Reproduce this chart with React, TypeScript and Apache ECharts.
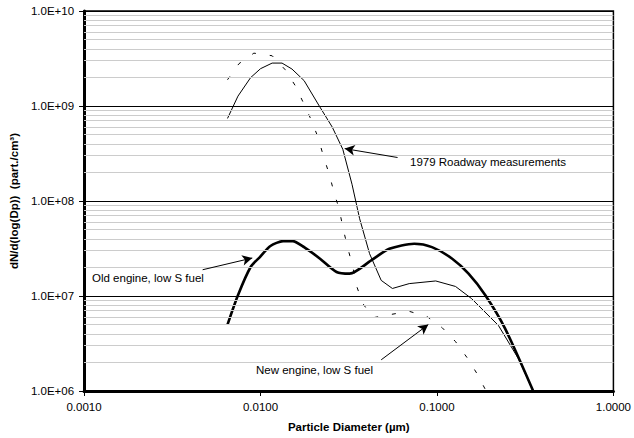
import React, { useEffect, useRef } from "react";
import * as echarts from "echarts";

// Particle diameter (µm) and concentration dN/dlog(Dp) (part./cm³)
const roadwayX = [0.0065, 0.00745, 0.00879, 0.0100, 0.01164, 0.01324, 0.01507, 0.01766, 0.02153, 0.0255, 0.02927, 0.0330, 0.03647, 0.0415, 0.0483, 0.0559, 0.0696, 0.0984, 0.1274, 0.157, 0.223, 0.289, 0.351];
const roadwayY = [7.4e8, 1.27e9, 1.99e9, 2.47e9, 2.83e9, 2.83e9, 2.45e9, 1.85e9, 1.0e9, 6.0e8, 3.5e8, 1.5e8, 6.5e7, 2.79e7, 1.46e7, 1.2e7, 1.35e7, 1.44e7, 1.26e7, 9.4e6, 4.9e6, 2.2e6, 1.0e6];

const oldEngineX = [0.0065, 0.00745, 0.00879, 0.00992, 0.01138, 0.01342, 0.0152, 0.01766, 0.02174, 0.02698, 0.032, 0.0424, 0.0537, 0.0743, 0.0937, 0.122, 0.151, 0.188, 0.243, 0.351];
const oldEngineY = [5.0e6, 1.02e7, 2.02e7, 2.57e7, 3.36e7, 3.78e7, 3.78e7, 3.27e7, 2.47e7, 1.79e7, 1.72e7, 2.37e7, 3.14e7, 3.55e7, 3.27e7, 2.47e7, 1.72e7, 1.02e7, 4.57e6, 1.0e6];

const newEngineX = [0.0065, 0.00755, 0.00917, 0.01164, 0.0138, 0.01573, 0.0175, 0.01934, 0.02126, 0.0227, 0.0245, 0.0261, 0.0279, 0.0294, 0.0313, 0.0334, 0.0349, 0.038, 0.0433, 0.055, 0.0696, 0.0882, 0.107, 0.1274, 0.148, 0.168, 0.19];
const newEngineY = [1.89e9, 2.79e9, 3.6e9, 3.38e9, 2.41e9, 1.64e9, 1.08e9, 7.2e8, 4.6e8, 2.98e8, 1.92e8, 1.23e8, 8.25e7, 5.1e7, 3.14e7, 2.02e7, 1.3e7, 8.35e6, 5.9e6, 6.4e6, 6.9e6, 6.05e6, 4.64e6, 3.31e6, 2.25e6, 1.54e6, 1.0e6];

// Minor horizontal grid values (2..9 within each decade)
const minorGridValues: number[] = [];
for (let e = 6; e < 10; e++) {
  for (let m = 2; m <= 9; m++) minorGridValues.push(m * Math.pow(10, e));
}

// Annotation arrows: [fromX, fromY, toX, toY]
const arrows = [
  [0.0598, 2.87e8, 0.0300, 3.56e8],
  [0.0047, 1.89e7, 0.00898, 2.51e7],
  [0.0483, 2.13e6, 0.0893, 5.0e6],
];

const labels = ["1979 Roadway measurements", "Old engine, low S fuel", "New engine, low S fuel"];

const zip = (xs: number[], ys: number[]) => xs.map((x, i) => [x, ys[i]]);

function fmtExp(v: number) {
  const e = Math.round(Math.log10(v));
  const m = v / Math.pow(10, e);
  const es = (e < 0 ? "-" : "+") + String(Math.abs(e)).padStart(2, "0");
  return m.toFixed(1) + "E" + es;
}

export default function App() {
  const ref = useRef<HTMLDivElement>(null);
  useEffect(() => {
    if (!ref.current) return;
    const chart = echarts.init(ref.current, null, { renderer: "svg" });
    const font = "Liberation Sans, Arial, sans-serif";
    chart.setOption({
      animation: false,
      textStyle: { fontFamily: font },
      grid: {
        left: 82,
        right: 18,
        top: 11,
        bottom: 45,
        show: true,
        borderColor: "#000",
        borderWidth: 1.5,
        backgroundColor: "transparent",
      },
      xAxis: {
        type: "log",
        logBase: 10,
        min: 0.001,
        max: 1,
        name: "Particle Diameter (µm)",
        nameLocation: "middle",
        nameGap: 30,
        nameTextStyle: { fontFamily: font, fontSize: 11.5, fontWeight: "bold", color: "#000" },
        axisLine: { show: true, onZero: false, lineStyle: { color: "#000", width: 3 } },
        axisTick: { show: true, length: 5, lineStyle: { color: "#000", width: 1 } },
        axisLabel: {
          fontFamily: font,
          fontSize: 11.5,
          color: "#000",
          margin: 10,
          formatter: (v: number) => v.toFixed(4),
        },
        splitLine: { show: false },
      },
      yAxis: {
        type: "log",
        logBase: 10,
        min: 1e6,
        max: 1e10,
        name: "dN/d(log(Dp))  (part./cm³)",
        nameLocation: "middle",
        nameGap: 60,
        nameTextStyle: { fontFamily: font, fontSize: 11.5, fontWeight: "bold", color: "#000" },
        axisLine: { show: true, onZero: false, lineStyle: { color: "#000", width: 3 } },
        axisTick: { show: true, length: 5, lineStyle: { color: "#000", width: 1 } },
        axisLabel: {
          fontFamily: font,
          fontSize: 11.5,
          color: "#000",
          margin: 10,
          formatter: (v: number) => fmtExp(v),
        },
        splitLine: { show: true, lineStyle: { color: "#000", width: 1 } },
      },
      series: [
        {
          name: "grid",
          type: "line",
          z: 1,
          data: [[0.001, 1e6]],
          showSymbol: false,
          lineStyle: { opacity: 0 },
          silent: true,
          markLine: {
            silent: true,
            symbol: ["none", "none"],
            label: { show: false },
            lineStyle: { color: "#cccccc", width: 1.2, type: "solid" },
            data: minorGridValues.map((v) => ({ yAxis: v })),
          },
        },
        {
          name: "1979 Roadway measurements",
          type: "line",
          z: 3,
          data: zip(roadwayX, roadwayY),
          showSymbol: false,
          lineStyle: { color: "#000", width: 1 },
        },
        {
          name: "Old engine, low S fuel",
          type: "line",
          z: 3,
          smooth: 0.25,
          data: zip(oldEngineX, oldEngineY),
          showSymbol: false,
          lineStyle: { color: "#000", width: 2.6 },
        },
        {
          name: "New engine, low S fuel",
          type: "line",
          z: 3,
          data: zip(newEngineX, newEngineY),
          showSymbol: false,
          lineStyle: { color: "#000", width: 1, type: [4, 14] },
          markLine: {
            silent: true,
            symbol: ["none", "arrow"],
            symbolSize: [8, 10],
            label: { show: false },
            lineStyle: { color: "#000", width: 1, type: "solid" },
            data: arrows.map((a) => [
              { coord: [a[0], a[1]] },
              { coord: [a[2], a[3]] },
            ]),
          },
        },
      ],
      graphic: [
        {
          type: "text",
          left: 410,
          top: 156,
          style: { text: labels[0], fontFamily: font, fontSize: 11.5, fill: "#000" },
        },
        {
          type: "text",
          left: 92,
          top: 272,
          style: { text: labels[1], fontFamily: font, fontSize: 11.5, fill: "#000" },
        },
        {
          type: "text",
          left: 256,
          top: 364,
          style: { text: labels[2], fontFamily: font, fontSize: 11.5, fill: "#000" },
        },
      ],
    });
    return () => chart.dispose();
  }, []);
  return (
    <div
      ref={ref}
      style={{ position: "fixed", left: 0, top: 0, width: 634, height: 438, background: "#fff" }}
    />
  );
}
